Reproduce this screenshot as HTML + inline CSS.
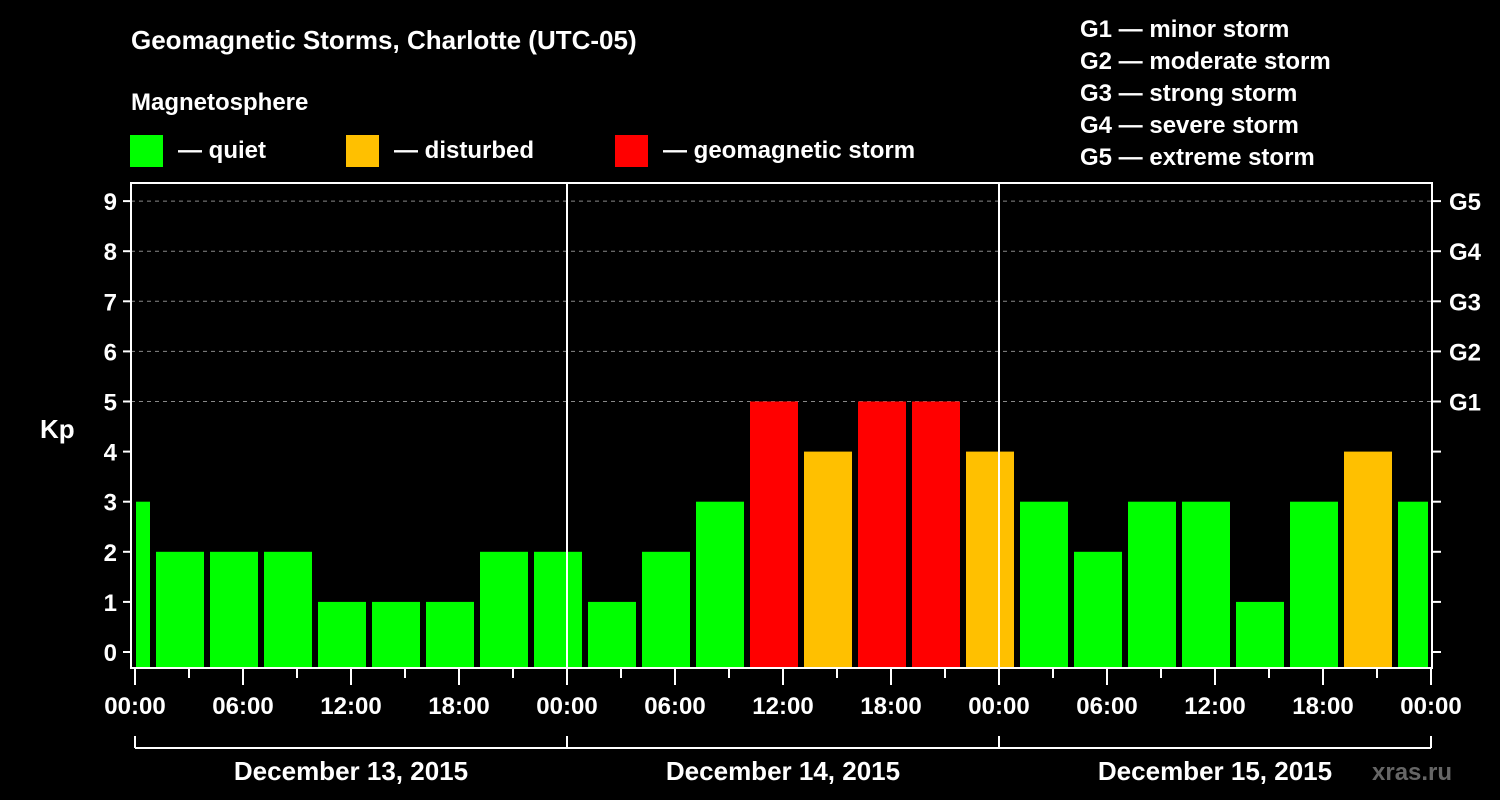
<!DOCTYPE html>
<html><head><meta charset="utf-8"><style>
html,body{margin:0;padding:0;background:#000;}
svg{display:block;font-family:"Liberation Sans",Arial,sans-serif;font-weight:bold;}
</style></head><body>
<svg id="chart" width="1500" height="800" viewBox="0 0 1500 800">
<rect width="1500" height="800" fill="#000"/>
<text x="131" y="49" fill="#fff" font-size="26">Geomagnetic Storms, Charlotte (UTC-05)</text>
<text x="131" y="110" fill="#fff" font-size="24">Magnetosphere</text>
<g><rect x="130" y="135" width="33" height="32" fill="#00ff00"/><text x="178" y="158" fill="#fff" font-size="24">— quiet</text></g>
<g><rect x="346" y="135" width="33" height="32" fill="#ffc000"/><text x="394" y="158" fill="#fff" font-size="24">— disturbed</text></g>
<g><rect x="615" y="135" width="33" height="32" fill="#ff0000"/><text x="663" y="158" fill="#fff" font-size="24">— geomagnetic storm</text></g>
<g fill="#fff" font-size="24">
<text x="1080" y="37">G1 — minor storm</text>
<text x="1080" y="69">G2 — moderate storm</text>
<text x="1080" y="101">G3 — strong storm</text>
<text x="1080" y="133">G4 — severe storm</text>
<text x="1080" y="165">G5 — extreme storm</text>
</g>
<text x="40" y="438" fill="#fff" font-size="26">Kp</text>
<text x="1372" y="780" fill="#666" font-size="24">xras.ru</text>
<g id="grid"></g><g id="bars"></g><g id="axes"></g>
</svg>
<script>
const kpValues=[3,2,2,2,1,1,1,2,2,1,2,3,5,4,5,5,4,3,2,3,3,1,3,4,3];
const firstHour=-2; // bars start at local hours firstHour + 3*i (UTC-5 offset)
const yTicks=[0,1,2,3,4,5,6,7,8,9];
const gLabels=["G1","G2","G3","G4","G5"];
const xLabels=["00:00","06:00","12:00","18:00","00:00","06:00","12:00","18:00","00:00","06:00","12:00","18:00","00:00"];
const dayLabels=["December 13, 2015","December 14, 2015","December 15, 2015"];
const NS="http://www.w3.org/2000/svg";
const X0=135,PXH=18,TOTALH=72,Y0=652,PXU=50.1,TOP=183,BOT=668,L=131,R=1432;
const xs=h=>X0+h*PXH; const ys=v=>Y0-v*PXU;
function mk(t,a,p){const e=document.createElementNS(NS,t);for(const k in a)e.setAttribute(k,a[k]);p.appendChild(e);return e;}
const grid=document.getElementById('grid'),bars=document.getElementById('bars'),axes=document.getElementById('axes');
[5,6,7,8,9].forEach(v=>{const l=mk('line',{x1:L,x2:R,y1:ys(v),y2:ys(v),stroke:'#888','stroke-dasharray':'4,4','stroke-width':1},grid);

});
kpValues.forEach((v,i)=>{
 const s=Math.max(0,firstHour+3*i),e=Math.min(TOTALH,firstHour+3*i+3);
 const x1=xs(s)+(s===0?1:3),x2=xs(e)-3;
 const c=v>=5?'#ff0000':(v>=4?'#ffc000':'#00ff00');
 const r=mk('rect',{x:x1,y:ys(v),width:x2-x1,height:BOT-ys(v),fill:c},bars);
 
 
});
const box=mk('rect',{x:L,y:TOP,width:R-L,height:BOT-TOP,fill:'none',stroke:'#fff','stroke-width':2},axes);


[24,48].forEach(h=>{const l=mk('line',{x1:xs(h),x2:xs(h),y1:TOP,y2:BOT,stroke:'#fff','stroke-width':2},axes);

});
yTicks.forEach(v=>{mk('line',{x1:123,x2:L,y1:ys(v),y2:ys(v),stroke:'#fff','stroke-width':2},axes);
 mk('line',{x1:R,x2:1441,y1:ys(v),y2:ys(v),stroke:'#fff','stroke-width':2},axes);
 const t=mk('text',{x:117,y:ys(v)+9,fill:'#fff','font-size':24,'text-anchor':'end'},axes);t.textContent=v;
 
 });
gLabels.forEach((g,i)=>{const t=mk('text',{x:1449,y:ys(5+i)+9,fill:'#fff','font-size':24},axes);t.textContent=g;
 
 });
for(let h=0;h<=TOTALH;h+=3){mk('line',{x1:xs(h),x2:xs(h),y1:BOT,y2:h%6===0?685:678,stroke:'#fff','stroke-width':2},axes);}
xLabels.forEach((s,i)=>{const t=mk('text',{x:xs(i*6),y:714,fill:'#fff','font-size':24,'text-anchor':'middle'},axes);t.textContent=s;
 
 });
mk('line',{x1:xs(0),x2:xs(72),y1:748,y2:748,stroke:'#fff','stroke-width':2},axes);
[0,24,48,72].forEach(h=>mk('line',{x1:xs(h),x2:xs(h),y1:736,y2:748,stroke:'#fff','stroke-width':2},axes));
dayLabels.forEach((d,i)=>{const t=mk('text',{x:xs(i*24+12),y:780,fill:'#fff','font-size':26,'text-anchor':'middle'},axes);t.textContent=d;
 
 });
</script>
</body></html>
